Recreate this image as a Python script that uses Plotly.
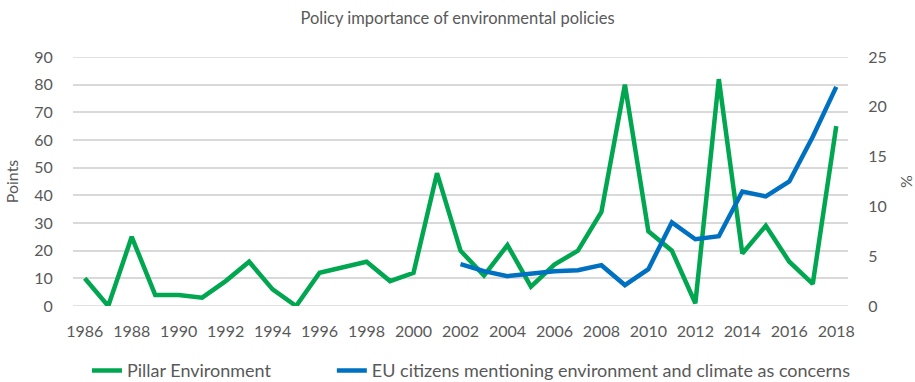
import plotly.graph_objects as go

years_green = list(range(1986, 2019))
pillar_env = [10, 0, 25, 4, 4, 3, 9, 16, 6, 0, 12, 14, 16, 9, 12, 48, 20, 11, 22, 7,
              15, 20, 34, 80, 27, 20, 1, 82, 19, 29, 16, 8, 65]
years_blue = list(range(2002, 2019))
eu_citizens = [4.2, 3.5, 3.0, 3.3, 3.5, 3.6, 4.1, 2.1, 3.7, 8.4, 6.7, 7.0, 11.5, 11.0,
               12.5, 17.0, 22.0]

left_ticks = [0, 10, 20, 30, 40, 50, 60, 70, 80, 90]
right_ticks = [0, 5, 10, 15, 20, 25]
x_ticks = list(range(1986, 2019, 2))

FONT = "Lato, Carlito, Calibri, sans-serif"
GREY = "#595959"
GREEN = "#00A650"
BLUE = "#0070C0"
GRID = "#D9D9D9"
CLEAR = "rgba(0,0,0,0)"

fig = go.Figure()

# horizontal gridlines at the left-axis tick values
for t in left_ticks:
    fig.add_hline(y=t, line_color=GRID, line_width=1.5, layer="below")

fig.add_trace(go.Scatter(x=years_green, y=pillar_env, mode="lines",
                         name="Pillar Environment",
                         line=dict(color=GREEN, width=4.5), yaxis="y",
                         legend="legend"))
fig.add_trace(go.Scatter(x=years_blue, y=eu_citizens, mode="lines",
                         name="EU citizens mentioning environment and climate as concerns",
                         line=dict(color=BLUE, width=4.5), yaxis="y2",
                         legend="legend2"))

leg_common = dict(orientation="h", xanchor="left", y=-0.26, yanchor="middle",
                  font=dict(size=18, color=GREY), bgcolor=CLEAR)

fig.update_layout(
    template="none",
    width=915, height=382,
    margin=dict(l=73, r=67, t=57, b=76, autoexpand=False),
    paper_bgcolor="white", plot_bgcolor=CLEAR,
    font=dict(family=FONT, color=GREY, size=16),
    title=dict(text="Policy importance of environmental policies",
               x=0.5, xanchor="center", y=0.953, yanchor="middle",
               font=dict(size=16.5, color=GREY)),
    xaxis=dict(range=[1985.5, 2018.5], tickmode="array", tickvals=x_ticks,
               ticktext=[str(t) for t in x_ticks], showgrid=False, zeroline=False,
               showline=False, ticks="outside", ticklen=11, tickcolor=CLEAR,
               tickfont=dict(size=16, color=GREY)),
    yaxis=dict(range=[0, 90], tickmode="array", tickvals=left_ticks,
               showgrid=True, gridcolor=GRID, gridwidth=1.5, zeroline=False,
               showline=False, ticks="outside", ticklen=16, tickcolor=CLEAR,
               tickfont=dict(size=16, color=GREY),
               title=dict(text="Points", font=dict(size=16, color=GREY), standoff=11)),
    yaxis2=dict(range=[0, 25], tickmode="array", tickvals=right_ticks,
                overlaying="y", side="right", showgrid=False, zeroline=False,
                showline=False, ticks="outside", ticklen=16, tickcolor=CLEAR,
                tickfont=dict(size=16, color=GREY),
                title=dict(text="%", font=dict(size=16, color=GREY), standoff=20)),
    showlegend=True,
    legend=dict(x=0.018, **leg_common),
    legend2=dict(x=0.334, **leg_common),
)

fig.write_html("out.html")
